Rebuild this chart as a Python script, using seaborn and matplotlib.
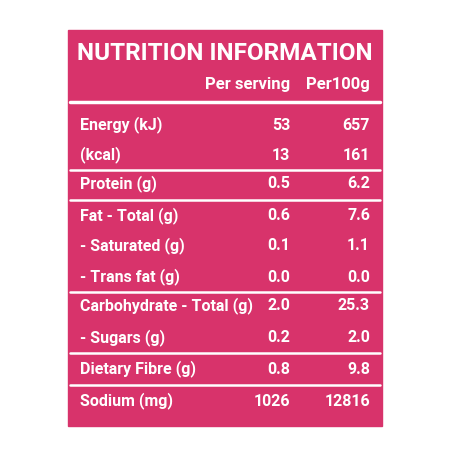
import matplotlib
matplotlib.use("Agg")
import matplotlib.pyplot as plt
import seaborn as sns
from matplotlib.patches import Rectangle

# label rows
nutrients = ["Energy (kJ)", "(kcal)", "Protein (g)", "Fat - Total (g)", "- Saturated (g)",
             "- Trans fat (g)", "Carbohydrate - Total (g)", "- Sugars (g)",
             "Dietary Fibre (g)", "Sodium (mg)"]
per_serving = ["53", "13", "0.5", "0.6", "0.1", "0.0", "2.0", "0.2", "0.8", "1026"]
per_100g = ["657", "161", "6.2", "7.6", "1.1", "0.0", "25.3", "2.0", "9.8", "12816"]
row_y = [125, 155, 184, 216, 246, 277, 306, 338, 369, 401]
rule_y = [170, 200, 292, 353, 385]

pink = "#d8336b"
sns.set_theme(style="white")
plt.rcParams["font.family"] = ["Roboto", "DejaVu Sans"]

fig = plt.figure(figsize=(4.5, 4.5), dpi=100)
ax = fig.add_axes([0, 0, 1, 1])
ax.set_xlim(0, 450)
ax.set_ylim(450, 0)
ax.axis("off")

ax.add_patch(Rectangle((68, 30), 314, 396, color=pink))
ax.text(225, 53, "NUTRITION INFORMATION", color="white", fontsize=17.5,
        fontweight="bold", ha="center", va="center")
ax.text(290, 85, "Per serving", color="white", fontsize=12, fontweight="bold",
        ha="right", va="center")
ax.text(370, 85, "Per100g", color="white", fontsize=12, fontweight="bold",
        ha="right", va="center")
ax.plot([70, 380], [102, 102], color="white", lw=2.5)
for y in rule_y:
    ax.plot([70, 380], [y, y], color="white", lw=1.8)

for name, a, b, y in zip(nutrients, per_serving, per_100g, row_y):
    kw = dict(color="white", fontsize=11.5, fontweight="bold", va="center")
    ax.text(80, y, name, ha="left", **kw)
    ax.text(290, y, a, ha="right", **kw)
    ax.text(370, y, b, ha="right", **kw)

fig.savefig("out.png", dpi=100, facecolor="white")
